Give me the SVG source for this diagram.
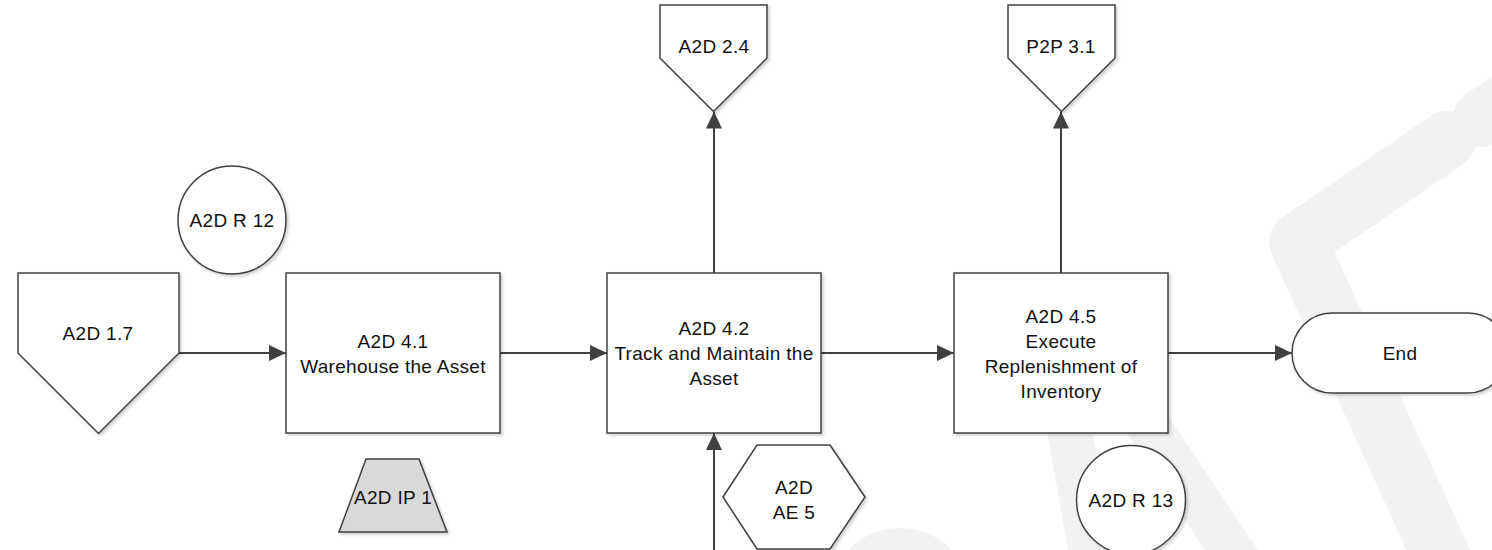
<svg xmlns="http://www.w3.org/2000/svg" width="1492" height="550" viewBox="0 0 1492 550">
  <style>
    .shape { fill: #ffffff; stroke: #404040; stroke-width: 1.5; filter: url(#shadow); }
    .grey { fill: #d9d9d9; }
    .lbl { font-family: "Liberation Sans", Arial, sans-serif; font-size: 19px; letter-spacing: 0.3px; fill: #111111; text-anchor: middle; }
    .conn { fill: none; stroke: #404040; stroke-width: 2; marker-end: url(#arrow); }
    .wm { fill: #f2f2f2; stroke: none; }
    .wml { fill: none; stroke: #f2f2f2; stroke-width: 58; stroke-linecap: round; stroke-linejoin: round; }
  </style>
  <defs>
    <filter id="shadow" x="-10%" y="-10%" width="130%" height="130%">
      <feDropShadow dx="2" dy="2" stdDeviation="1.5" flood-color="#000000" flood-opacity="0.18"/>
    </filter>
    <marker id="arrow" markerUnits="userSpaceOnUse" markerWidth="17" markerHeight="16" refX="17" refY="8" orient="auto">
      <path d="M0,0 L17,8 L0,16 z" fill="#404040"/>
    </marker>
  </defs>
  <rect width="1492" height="550" fill="#ffffff"/>

  <g id="watermark">
    <path class="wml" d="M1447,140 L1298,242 L1452,580"/>
    <path class="wml" d="M1482,118 L1540,80"/>
    <polygon class="wm" points="1045,420 1090,420 1115,550 1068,550"/>
    <polygon class="wm" points="1118,420 1168,416 1258,550 1205,550"/>
    <circle class="wm" cx="900" cy="600" r="72"/>
  </g>

  <g id="connectors">
    <line class="conn" x1="179" y1="353" x2="286" y2="353"/>
    <line class="conn" x1="500" y1="353" x2="607" y2="353"/>
    <line class="conn" x1="821" y1="353" x2="954" y2="353"/>
    <line class="conn" x1="1168" y1="353" x2="1292" y2="353"/>
    <line class="conn" x1="714" y1="273" x2="714" y2="111.5"/>
    <line class="conn" x1="1061" y1="273" x2="1061" y2="111.5"/>
    <line class="conn" x1="714" y1="552" x2="714" y2="433"/>
  </g>

  <g id="n-a2d-1-7">
    <polygon class="shape" points="18,273 179,273 179,353 98.5,433.5 18,353"/>
    <text class="lbl" x="98" y="340">A2D 1.7</text>
  </g>

  <g id="n-a2d-r-12">
    <circle class="shape" cx="232" cy="220" r="54"/>
    <text class="lbl" x="232" y="227">A2D R 12</text>
  </g>

  <g id="n-a2d-4-1">
    <rect class="shape" x="286" y="273" width="214" height="160"/>
    <text class="lbl" x="393" y="348">A2D 4.1</text>
    <text class="lbl" x="393" y="373">Warehouse the Asset</text>
  </g>

  <g id="n-a2d-ip-1">
    <polygon class="shape grey" points="366,459 419,459 447,532 339,532"/>
    <text class="lbl" x="393" y="504">A2D IP 1</text>
  </g>

  <g id="n-a2d-2-4">
    <polygon class="shape" points="660,5 767,5 767,58 713.5,111.5 660,58"/>
    <text class="lbl" x="714" y="53">A2D 2.4</text>
  </g>

  <g id="n-a2d-4-2">
    <rect class="shape" x="607" y="273" width="214" height="160"/>
    <text class="lbl" x="714" y="335">A2D 4.2</text>
    <text class="lbl" x="714" y="360">Track and Maintain the</text>
    <text class="lbl" x="714" y="385">Asset</text>
  </g>

  <g id="n-a2d-ae-5">
    <polygon class="shape" points="723,497 757,445 830,445 865,497 830,549 757,549"/>
    <text class="lbl" x="794" y="494">A2D</text>
    <text class="lbl" x="794" y="519">AE 5</text>
  </g>

  <g id="n-p2p-3-1">
    <polygon class="shape" points="1008,5 1115,5 1115,58 1061.5,111.5 1008,58"/>
    <text class="lbl" x="1061" y="53">P2P 3.1</text>
  </g>

  <g id="n-a2d-4-5">
    <rect class="shape" x="954" y="273" width="214" height="160"/>
    <text class="lbl" x="1061" y="323">A2D 4.5</text>
    <text class="lbl" x="1061" y="348">Execute</text>
    <text class="lbl" x="1061" y="373">Replenishment of</text>
    <text class="lbl" x="1061" y="398">Inventory</text>
  </g>

  <g id="n-a2d-r-13">
    <circle class="shape" cx="1131" cy="500" r="54.5"/>
    <text class="lbl" x="1131" y="507">A2D R 13</text>
  </g>

  <g id="n-end">
    <rect class="shape" x="1292" y="313" width="216" height="80" rx="40" ry="40"/>
    <text class="lbl" x="1400" y="360">End</text>
  </g>
</svg>
